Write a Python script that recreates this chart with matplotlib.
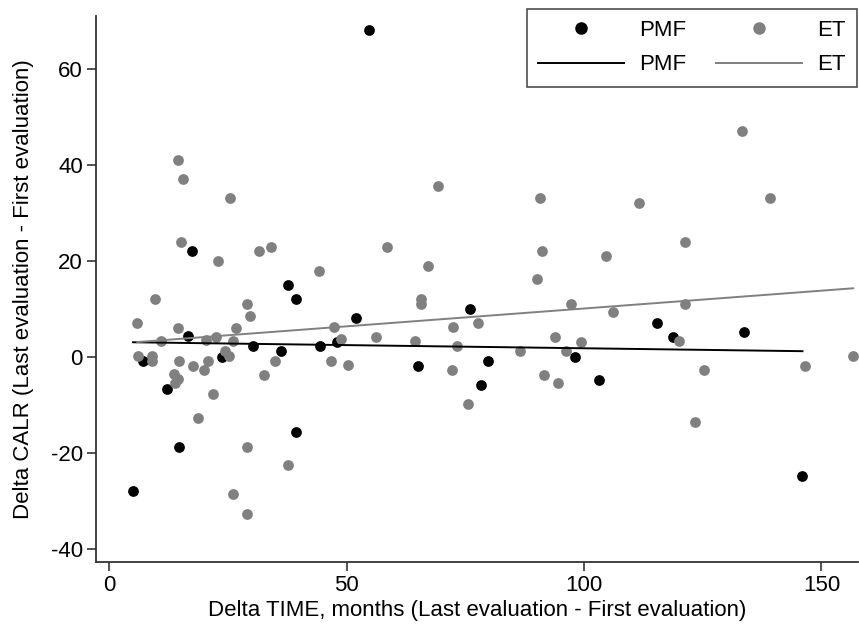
import numpy as np
import matplotlib.pyplot as plt
from matplotlib.lines import Line2D

# PMF group (black)
pmf_time = [5.0, 7.0, 12.1, 14.6, 16.6, 17.5, 23.7, 30.2, 36.1, 37.6, 39.3, 39.4, 44.4,
            48.0, 51.9, 54.8, 65.0, 76.0, 78.2, 79.8, 98.1, 103.2, 115.4, 118.7, 133.6, 146.0]
pmf_calr = [-28, -0.8, -6.7, -18.7, 4.3, 22, 0, 2.2, 1.2, 15, 12, -15.7, 2.2,
            3.2, 8.2, 68, -1.9, 10, -5.8, -0.8, 0, -4.7, 7, 4.1, 5.1, -24.7]

# ET group (grey)
et_time = [14.5, 15.5, 25.5, 15.1, 23.0, 31.6, 34.1, 44.1, 69.3, 90.7, 58.5, 67.1, 91.1,
           90.0, 9.6, 5.9, 28.9, 29.7, 14.5, 26.7, 10.9, 20.3, 22.4, 26.1, 47.3, 48.7,
           6.0, 9.0, 9.0, 14.6, 17.7, 19.9, 20.8, 24.4, 25.2, 13.7, 14.4, 13.9, 21.9,
           18.6, 32.5, 34.8, 46.8, 50.2, 28.9, 37.7, 26.0, 29.1, 65.7, 65.7, 97.3, 72.5,
           77.7, 56.1, 64.4, 73.2, 86.5, 93.9, 96.2, 99.4, 72.2, 75.6, 91.6, 94.6, 133.2,
           111.6, 139.1, 121.2, 104.7, 106.1, 121.3, 119.9, 156.7, 146.5, 125.2, 123.3]
et_calr = [41, 37, 33, 24, 20, 22, 23, 18, 35.5, 33, 23, 19, 22,
           16.2, 12, 7, 11, 8.5, 6.1, 6.1, 3.3, 3.6, 4.1, 3.3, 6.2, 3.7,
           0.2, 0.2, -0.8, -0.8, -1.9, -2.7, -0.8, 1.2, 0.2, -3.6, -4.5, -5.5, -7.8,
           -12.7, -3.75, -0.8, -0.8, -1.7, -18.7, -22.5, -28.6, -32.7, 12, 11, 11.1, 6.2,
           7.1, 4.1, 3.3, 2.3, 1.25, 4.1, 1.25, 3.2, -2.7, -9.7, -3.75, -5.5, 47,
           32, 33, 24, 21.1, 9.4, 11.1, 3.3, 0.2, -1.9, -2.7, -13.5]

# fitted lines (end points)
pmf_fit_x = [5.0, 146.0]
pmf_fit_y = [3.06, 1.2]
et_fit_x = [5.9, 156.7]
et_fit_y = [3.1, 14.3]

plt.rcParams['font.family'] = ['Liberation Sans', 'DejaVu Sans']
plt.rcParams['axes.unicode_minus'] = False

grey = '#808080'

fig = plt.figure(figsize=(8.59, 6.24), dpi=100)
ax = fig.add_axes([96 / 859, 1 - 562 / 624, 762 / 859, 546 / 624])

ax.scatter(pmf_time, pmf_calr, s=60, color='black', linewidths=0, zorder=2)
ax.scatter(et_time, et_calr, s=60, color=grey, linewidths=0, zorder=3)
ax.plot(pmf_fit_x, pmf_fit_y, color='black', lw=1.4, zorder=4)
ax.plot(et_fit_x, et_fit_y, color=grey, lw=1.4, zorder=5)

ax.set_xlim(-2.8, 157.7)
ax.set_ylim(-42.7, 71.0)
ax.set_xticks([0, 50, 100, 150])
ax.set_yticks([-40, -20, 0, 20, 40, 60])

for side in ['top', 'right']:
    ax.spines[side].set_visible(False)
for side in ['left', 'bottom']:
    ax.spines[side].set_color('#333333')
    ax.spines[side].set_linewidth(1.3)

ax.tick_params(axis='both', direction='out', length=6.5, width=1.2, color='#333333',
               labelsize=16, pad=3)

ax.set_xlabel('Delta TIME, months (Last evaluation - First evaluation)', fontsize=16, labelpad=3)
ax.set_ylabel('Delta CALR (Last evaluation - First evaluation)', fontsize=16, labelpad=12)

handles = [
    Line2D([], [], marker='o', ls='none', color='black', markersize=8),
    Line2D([], [], color='black', lw=1.4),
    Line2D([], [], marker='o', ls='none', color=grey, markersize=8),
    Line2D([], [], color=grey, lw=1.4),
]
labels = ['PMF', 'PMF', 'ET', 'ET']
leg = fig.legend(handles, labels, ncol=2, loc='upper right',
                 bbox_to_anchor=(857 / 859, 1 - 9 / 624), borderaxespad=0,
                 fontsize=16, frameon=True, fancybox=False, handlelength=3.85,
                 handletextpad=0.7, columnspacing=1.35, labelspacing=0.6, borderpad=0.5)
leg.get_frame().set_edgecolor('#222222')
leg.get_frame().set_linewidth(1.2)

plt.savefig('out.png', dpi=100)
